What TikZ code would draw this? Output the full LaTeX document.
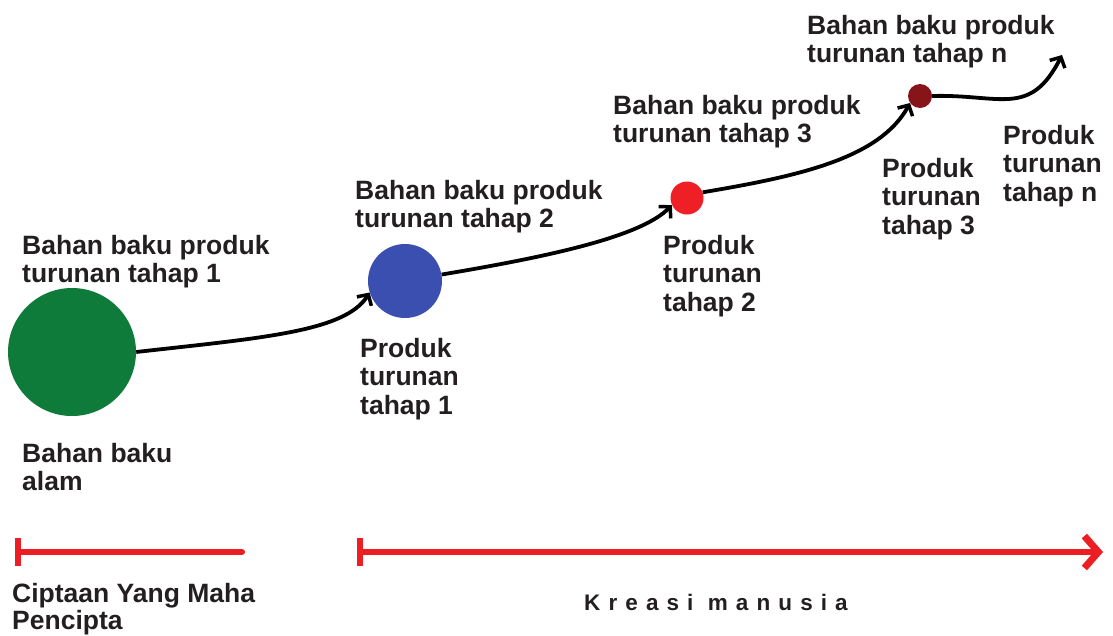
\documentclass[tikz,border=0pt]{standalone}
\usepackage{fontspec}
\setmainfont{Liberation Sans}
\usetikzlibrary{arrows.meta}
\definecolor{ink}{RGB}{35,31,32}
\definecolor{nature}{RGB}{15,123,58}
\definecolor{stage1}{RGB}{59,79,176}
\definecolor{stage2}{RGB}{238,32,37}
\definecolor{stagen}{RGB}{135,20,25}
\definecolor{axis}{RGB}{236,30,36}
\tikzset{
  every picture/.style={color=ink},
  dot/.style={circle, inner sep=0pt, draw=none},
  lbl/.style={font=\bfseries\fontsize{26.5}{28.5}\selectfont, text=ink, align=left, inner sep=0pt, anchor=north west},
  flow/.style={-{Straight Barb[length=8pt,width=17pt,line width=3.5pt]}, line width=3.8pt, color=black},
  span/.style={line width=6pt, color=axis, line cap=round},
}
\begin{document}
\begin{tikzpicture}[x=1pt, y=-1pt]
  \useasboundingbox (0,0) rectangle (1113,635);
  % stages of raw material, left to right
  \node[dot, fill=nature, minimum size=128pt] (alam) at (72,352) {};
  \node[dot, fill=stage1, minimum size=74pt] (tahap1) at (405,281) {};
  \node[dot, fill=stage2, minimum size=33pt] (tahap2) at (687,198) {};
  \node[dot, fill=stagen, minimum size=24pt] (tahapn) at (920,96) {};
  \coordinate (lanjut) at (1062,55);
  \draw[flow] (alam.east) .. controls (260,338) and (345,332) .. (tahap1.198);
  \draw[flow] (tahap1.10) .. controls (540,258) and (640,238) .. (tahap2.205);
  \draw[flow] (tahap2.20) .. controls (800,176) and (880,158) .. (tahapn.215);
  \draw[flow] (tahapn.east) .. controls (1000,94) and (1030,118) .. (lanjut);
  % labels
  \node[lbl] (bb1) at (22,235) {Bahan baku produk\\turunan tahap 1};
  \node[lbl] (bbalam) at (22,443) {Bahan baku\\alam};
  \node[lbl] (pr1) at (360,338) {Produk\\turunan\\tahap 1};
  \node[lbl] (bb2) at (355,180) {Bahan baku produk\\turunan tahap 2};
  \node[lbl] (pr2) at (663,235) {Produk\\turunan\\tahap 2};
  \node[lbl] (bb3) at (613,95) {Bahan baku produk\\turunan tahap 3};
  \node[lbl] (pr3) at (882,158) {Produk\\turunan\\tahap 3};
  \node[lbl] (bbn) at (807,15) {Bahan baku produk\\turunan tahap n};
  \node[lbl] (prn) at (1003,125) {Produk\\turunan\\tahap n};
  % origin spans
  \coordinate (ciptaA) at (15,552);
  \coordinate (ciptaB) at (242,552);
  \coordinate (kreasiA) at (357,552);
  \coordinate (kreasiB) at (1103,552);
  \draw[span, {Bar[width=28pt,line width=6pt]}-] (ciptaA) -- (ciptaB);
  \draw[span, {Bar[width=28pt,line width=6pt]}-{Straight Barb[length=14pt,width=32pt,line width=7pt]}] (kreasiA) -- (kreasiB);
  \node[lbl, font=\bfseries\fontsize{26.5}{27.5}\selectfont] (cipta) at (12,583) {Ciptaan Yang Maha\\Pencipta};
  \node[lbl, anchor=center, font=\bfseries\fontsize{22.5}{26}\selectfont\addfontfeature{LetterSpace=36}] (kreasi) at (716,602) {Kreasi manusia};
\end{tikzpicture}
\end{document}
